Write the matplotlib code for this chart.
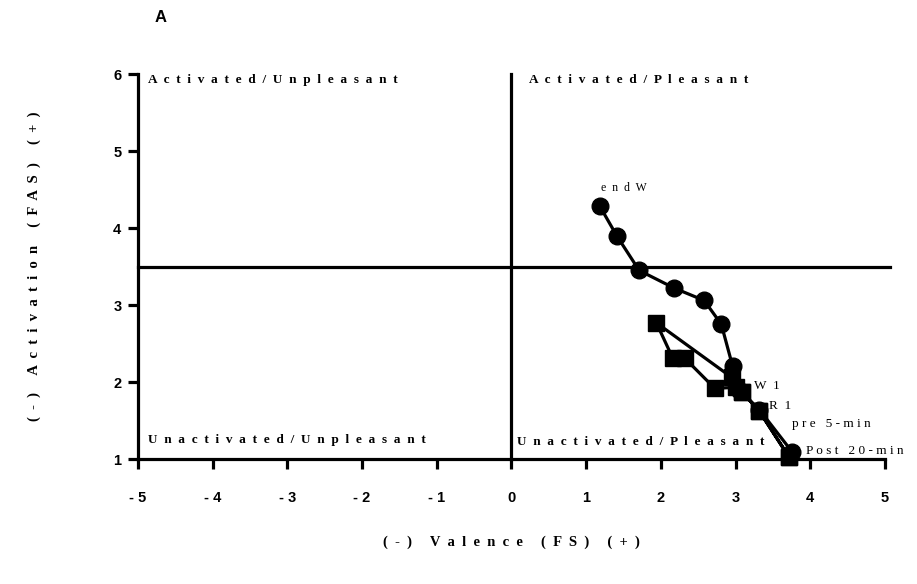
import matplotlib
matplotlib.use("Agg")
import matplotlib.pyplot as plt

# circle series (valence, activation)
circ_x = [3.76, 3.32, 3.05, 2.96, 2.81, 2.58, 2.18, 1.71, 1.41, 1.18]
circ_y = [1.09, 1.64, 1.90, 2.21, 2.75, 3.06, 3.22, 3.45, 3.90, 4.29]

# square series
sq_x = [3.72, 3.32, 3.09, 3.01, 2.72, 2.32, 2.16, 1.94, 2.95, 3.09, 3.32, 3.72]
sq_y = [1.02, 1.62, 1.87, 1.93, 1.92, 2.31, 2.31, 2.77, 2.06, 1.87, 1.62, 1.02]

# labelled time points
pt_labels = ["endW", "W1", "R1", "pre 5-min", "Post 20-min"]
pt_x = [1.51, 3.25, 3.45, 3.76, 3.94]
pt_y = [4.52, 1.95, 1.69, 1.45, 1.10]
pt_gap = [2, 2, 2, 1, 1]

quad_labels = ["Activated/Unpleasant", "Activated/Pleasant",
               "Unactivated/Unpleasant", "Unactivated/Pleasant"]
quad_x = [-4.87, 0.24, -4.87, 0.08]
quad_y = [5.92, 5.92, 1.25, 1.22]

xticks = [-5, -4, -3, -2, -1, 0, 1, 2, 3, 4, 5]
yticks = [1, 2, 3, 4, 5, 6]


def spaced(s, n=1):
    # the original text is set with wide letter spacing
    return (" " * n).join(list(s))


fig = plt.figure(figsize=(9.17, 5.84), dpi=100)
ax = fig.add_axes([0.1505, 0.214, 0.8145, 0.659])

lw = 2.3
ax.plot([-5, 5.07], [3.5, 3.5], color="black", lw=lw, clip_on=False, zorder=2)
ax.plot([0, 0], [1, 6], color="black", lw=lw, clip_on=False, zorder=2)

ax.plot(sq_x, sq_y, color="black", lw=lw, marker="s", markersize=12,
        clip_on=False, zorder=3)
ax.plot(circ_x, circ_y, color="black", lw=lw, marker="o", markersize=12,
        clip_on=False, zorder=4)

for lab, x, y, g in zip(pt_labels, pt_x, pt_y, pt_gap):
    ax.text(x, y, spaced(lab, g), family="Liberation Serif",
            fontsize=8.5 if lab == "endW" else 9.5,
            ha="left" if lab != "endW" else "center", va="center", clip_on=False)

for lab, x, y in zip(quad_labels, quad_x, quad_y):
    ax.text(x, y, spaced(lab, 2), family="Liberation Serif", fontweight="bold",
            fontsize=9.5, ha="left", va="center")

ax.set_xlim(-5, 5)
ax.set_ylim(1, 6)
ax.set_xticks(xticks)
ax.set_yticks(yticks)
ax.set_xticklabels([spaced(str(t)) for t in xticks])
ax.set_yticklabels([str(t) for t in yticks])

for side in ["top", "right"]:
    ax.spines[side].set_visible(False)
for side in ["left", "bottom"]:
    ax.spines[side].set_linewidth(lw)
ax.tick_params(axis="both", width=lw, length=7, direction="out")
ax.tick_params(axis="x", pad=16)
ax.tick_params(axis="y", pad=5)
for t in ax.get_xticklabels() + ax.get_yticklabels():
    t.set_family("Liberation Sans")
    t.set_fontweight("bold")
    t.set_fontsize(10.5)

ax.set_xlabel(spaced("(-) Valence (FS) (+)", 2), family="Liberation Serif",
              fontweight="bold", fontsize=10.5, labelpad=22)
ax.set_ylabel(spaced("(-) Activation (FAS) (+)", 2), family="Liberation Serif",
              fontweight="bold", fontsize=10.5, labelpad=52)

fig.text(155 / 917, 1 - 17 / 584, "A", family="Liberation Sans",
         fontweight="bold", fontsize=12, ha="left", va="center")

fig.savefig("out.png", dpi=100)
